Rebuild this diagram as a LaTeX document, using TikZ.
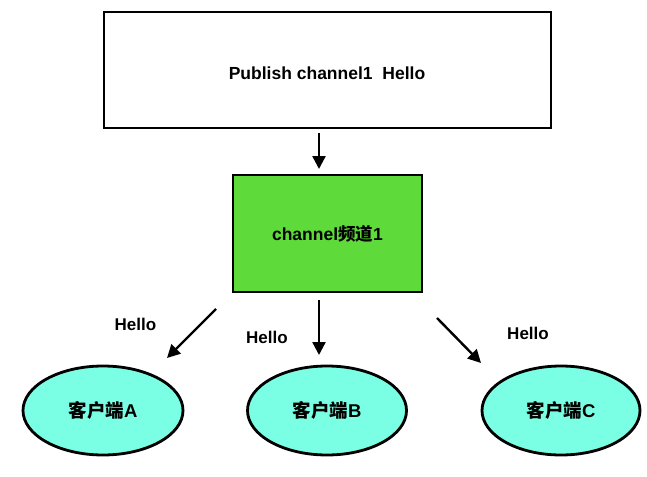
\documentclass[tikz,border=0pt]{standalone}
\usepackage{fontspec}
\setmainfont{Liberation Sans}
\newfontfamily\cjk{Noto Sans CJK SC}
\usetikzlibrary{arrows.meta,shapes.geometric}
\definecolor{boxgreen}{RGB}{94,218,58}
\definecolor{clientcyan}{RGB}{122,255,228}
\tikzset{
  box/.style={draw=black, line width=2.8pt, rectangle, inner sep=0pt, font=\fontsize{17.5}{20}\selectfont\bfseries},
  client/.style={draw=black, line width=2.8pt, ellipse, fill=clientcyan, inner sep=0pt, font=\fontsize{18.5}{20}\selectfont\bfseries},
  conn/.style={line width=2.4pt, -{Triangle[length=13pt,width=13pt]}},
  lbl/.style={font=\fontsize{17}{20}\selectfont\bfseries, inner sep=0pt}
}
\begin{document}
\begin{tikzpicture}[x=1pt,y=-1pt]
\useasboundingbox (0,0) rectangle (647,476);
\node[box, minimum width=447pt, minimum height=116pt] (pub) at (327.5,70) {};
\node[font=\fontsize{17.5}{20}\selectfont\bfseries, inner sep=0pt] (pubtxt) at (327,73) {Publish channel1\ \ Hello};
\node[box, fill=boxgreen, minimum width=189pt, minimum height=117pt] (chan) at (327.5,233.5) {channel{\cjk 频道}1};
\node[client, minimum width=160pt, minimum height=89pt] (ca) at (103,410.5) {{\cjk 客户端}A};
\node[client, minimum width=159pt, minimum height=89pt] (cb) at (327,410.5) {{\cjk 客户端}B};
\node[client, minimum width=158pt, minimum height=89pt] (cc) at (561,410.5) {{\cjk 客户端}C};
\coordinate (p1) at (319,133);
\coordinate (p2) at (319,169);
\coordinate (a1) at (216,309);
\coordinate (a2) at (167,358);
\coordinate (b1) at (319,300);
\coordinate (b2) at (319,355);
\coordinate (c1) at (437,318);
\coordinate (c2) at (481,363);
\draw[conn] (p1) -- (p2);
\draw[conn] (a1) -- (a2);
\draw[conn] (b1) -- (b2);
\draw[conn] (c1) -- (c2);
\node[lbl] (la) at (135.5,324) {Hello};
\node[lbl] (lb) at (267,337) {Hello};
\node[lbl] (lc) at (528,333) {Hello};
\end{tikzpicture}
\end{document}
